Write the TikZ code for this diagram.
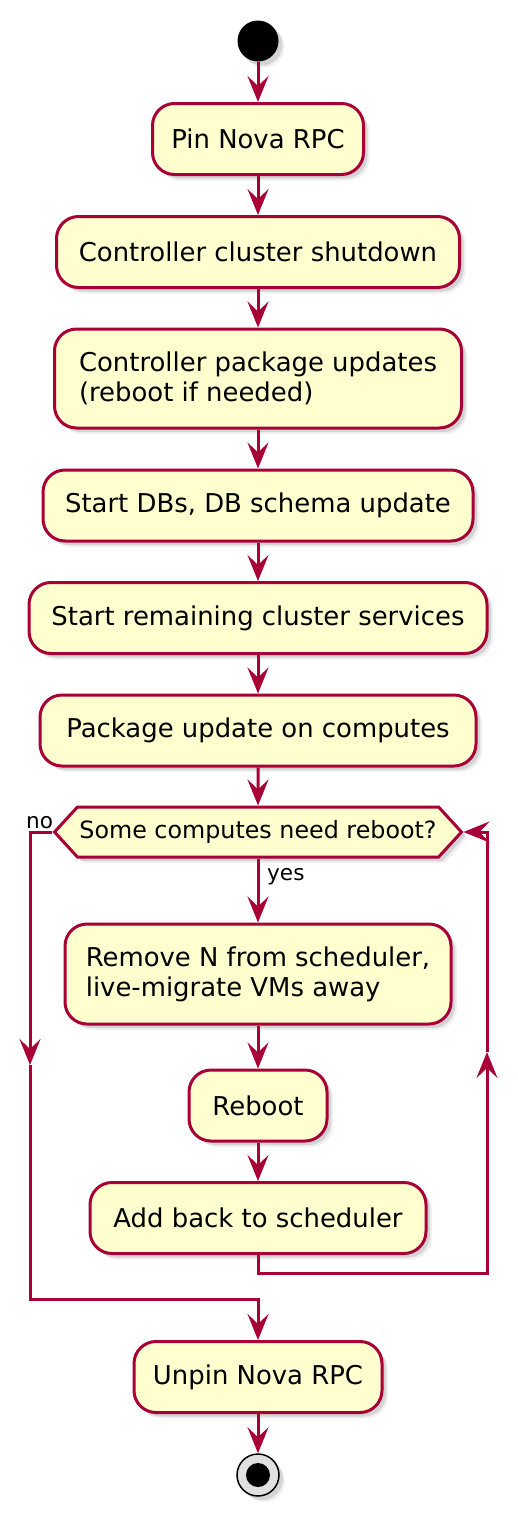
\documentclass[tikz,border=0pt]{standalone}
\usepackage{fontspec}
\setmainfont{DejaVu Sans}
\usepackage{tikz}
\usetikzlibrary{arrows.meta}
\usetikzlibrary{shapes.symbols}
\usetikzlibrary{shadows}
\definecolor{umlred}{HTML}{A80036}
\definecolor{umlfill}{HTML}{FEFECE}
\tikzset{
  umlshadow/.style={drop shadow={shadow xshift=6pt,shadow yshift=-6pt,opacity=0.12},
    drop shadow={shadow xshift=4pt,shadow yshift=-4pt,opacity=0.25}},
  act/.style={draw=umlred, fill=umlfill, line width=3pt, rounded corners=22pt,
    minimum height=71pt, inner sep=0pt, align=left,
    font=\fontsize{25.9}{30}\selectfont, umlshadow},
  choice/.style={shape=signal, signal to=west and east, signal pointer angle=95,
    draw=umlred, fill=umlfill, line width=3pt, minimum width=407pt,
    minimum height=50pt, inner sep=0pt, font=\fontsize{23.8}{28}\selectfont, umlshadow},
  branch/.style={font=\fontsize{21.6}{26}\selectfont, inner sep=0pt},
  flow/.style={draw=umlred, line width=3pt, -{Stealth[length=26pt,width=21pt,inset=10pt]}},
}
\begin{document}
\begin{tikzpicture}[x=1pt,y=-1pt]
          \useasboundingbox (0,0) rectangle (518,1518);
          % start
          \node[circle, fill=black, minimum size=41pt, inner sep=0pt, umlshadow] (start) at (258,41) {};
          % Pin Nova RPC
          \node[act, minimum width=211pt] (pin) at (258,139) {Pin Nova RPC};
          % Controller cluster shutdown
          \node[act, minimum width=403pt] (shutdown) at (258,252) {Controller cluster shutdown};
          % Controller package updates
          \node[act, minimum width=407pt, minimum height=99pt] (ctlupdate) at (258,378.5) {Controller package updates\\(reboot if needed)};
          % Start DBs
          \node[act, minimum width=430pt] (dbs) at (258,505.5) {Start DBs, DB schema update};
          % Start remaining services
          \node[act, minimum width=458pt] (services) at (258,618) {Start remaining cluster services};
          % Package update on computes
          \node[act, minimum width=436pt] (cmpupdate) at (258,730.5) {Package update on computes};
          % reboot decision
          \node[choice] (needreboot) at (258,832) {Some computes need reboot?};
          \node[branch, anchor=base west] (yes) at (267,880) {yes};
          \node[branch, anchor=base west] (no) at (26,828) {no};
          % Remove N from scheduler
          \node[act, minimum width=386pt, minimum height=100pt] (drain) at (258,974) {Remove N from scheduler,\\live-migrate VMs away};
          % Reboot
          \node[act, minimum width=138pt] (reboot) at (258,1105.5) {Reboot};
          % Add back to scheduler
          \node[act, minimum width=336pt] (addback) at (258,1218) {Add back to scheduler};
          % Unpin Nova RPC
          \node[act, minimum width=248pt] (unpin) at (258,1377) {Unpin Nova RPC};
          % stop
          \node[circle, draw=black, fill=black!12, line width=1.5pt, minimum size=42pt, inner sep=0pt, umlshadow] (stop) at (258,1475) {};
          \node[circle, fill=black, minimum size=24pt, inner sep=0pt] (stopdot) at (stop) {};
          % bends of the loop
          \coordinate (noturn) at (30,832);
          \coordinate (nomid) at (30,1065);
          \coordinate (nojoin) at (258,1299);
          \coordinate (loopturn) at (487,1273);
          \coordinate (loopmid) at (487,1052);
          % main line
          \draw[flow] (start) -- (pin);
          \draw[flow] (pin) -- (shutdown);
          \draw[flow] (shutdown) -- (ctlupdate);
          \draw[flow] (ctlupdate) -- (dbs);
          \draw[flow] (dbs) -- (services);
          \draw[flow] (services) -- (cmpupdate);
          \draw[flow] (cmpupdate) -- (needreboot);
          % yes branch
          \draw[flow] (needreboot.south) -- (drain);
          \draw[flow] (drain) -- (reboot);
          \draw[flow] (reboot) -- (addback);
          \draw[flow] (addback.south) |- (loopturn) -- (loopmid);
          \draw[flow] (loopmid) |- (needreboot.east);
          % no branch
          \draw[flow] (needreboot.west) -- (noturn) -- (nomid);
          \draw[flow] (nomid) |- (nojoin) -- (unpin);
          \draw[flow] (unpin) -- (stop);
        \end{tikzpicture}
\end{document}
